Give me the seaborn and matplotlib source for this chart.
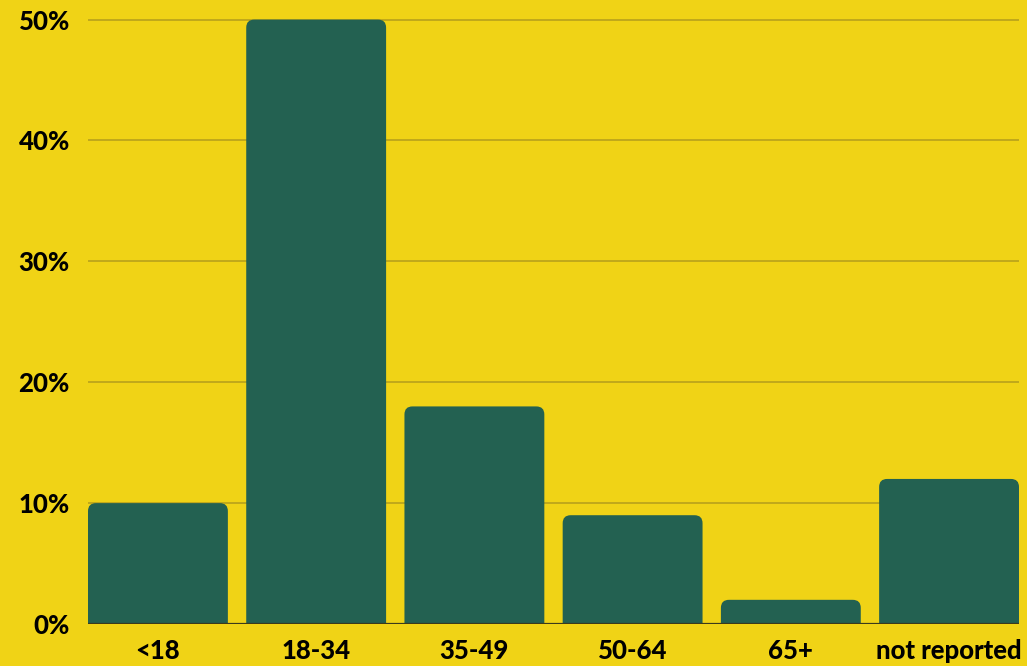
import matplotlib
matplotlib.use("Agg")
import matplotlib.pyplot as plt
from matplotlib.patches import FancyBboxPatch
from matplotlib.ticker import FuncFormatter
import seaborn as sns
import pandas as pd

# Age distribution (percent of respondents)
age_groups = ["<18", "18-34", "35-49", "50-64", "65+", "not reported"]
shares = [10, 50, 18, 9, 2, 12]

BG = "#F0D316"
BAR = "#236151"
GRID = "#B39D1C"

sns.set_theme(style="white")
plt.rcParams["font.family"] = ["Lato", "DejaVu Sans"]

df = pd.DataFrame({"age": age_groups, "share": shares})

W, H = 1027, 666
fig = plt.figure(figsize=(W / 100, H / 100), dpi=100, facecolor=BG)
ax = fig.add_axes([88 / W, (H - 624) / H, (1019 - 88) / W, (624 - 19) / H])
ax.set_facecolor(BG)

sns.barplot(data=df, x="age", y="share", color=BAR, width=0.884,
            saturation=1, ax=ax, zorder=3)

ax.set_xlim(-0.5 + 0.058, len(age_groups) - 0.5 - 0.058)
ax.set_ylim(0, 50.05)

# Replace each bar with a top-rounded version of the same geometry
radius_px = 8
fig.canvas.draw()
bbox = ax.get_window_extent()
x_per_px = (ax.get_xlim()[1] - ax.get_xlim()[0]) / bbox.width
y_per_px = (ax.get_ylim()[1] - ax.get_ylim()[0]) / bbox.height
r = radius_px * x_per_px
for p in list(ax.patches):
    x0, w, h = p.get_x(), p.get_width(), p.get_height()
    extra = radius_px * y_per_px
    rounded = FancyBboxPatch((x0, -extra), w, h + extra,
                             boxstyle=f"round,pad=0,rounding_size={r}",
                             mutation_aspect=y_per_px / x_per_px,
                             facecolor=BAR, edgecolor="none", zorder=3)
    p.remove()
    ax.add_patch(rounded)

ax.set_yticks([0, 10, 20, 30, 40, 50])
ax.yaxis.set_major_formatter(FuncFormatter(lambda v, _: f"{v:.0f}%"))
ax.grid(axis="y", color=GRID, linewidth=1.1, zorder=0)
ax.grid(axis="x", visible=False)
ax.axhline(0, color="#3b3a1c", linewidth=1.6, zorder=4)

for s in ax.spines.values():
    s.set_visible(False)

ax.tick_params(axis="y", length=0, pad=13, labelsize=18.5)
ax.tick_params(axis="x", length=0, pad=11, labelsize=18.5)
for lab in ax.get_xticklabels() + ax.get_yticklabels():
    lab.set_fontweight("black")
    lab.set_color("black")

ax.set_xlabel("")
ax.set_ylabel("")

fig.savefig("out.png", dpi=100, facecolor=BG)
